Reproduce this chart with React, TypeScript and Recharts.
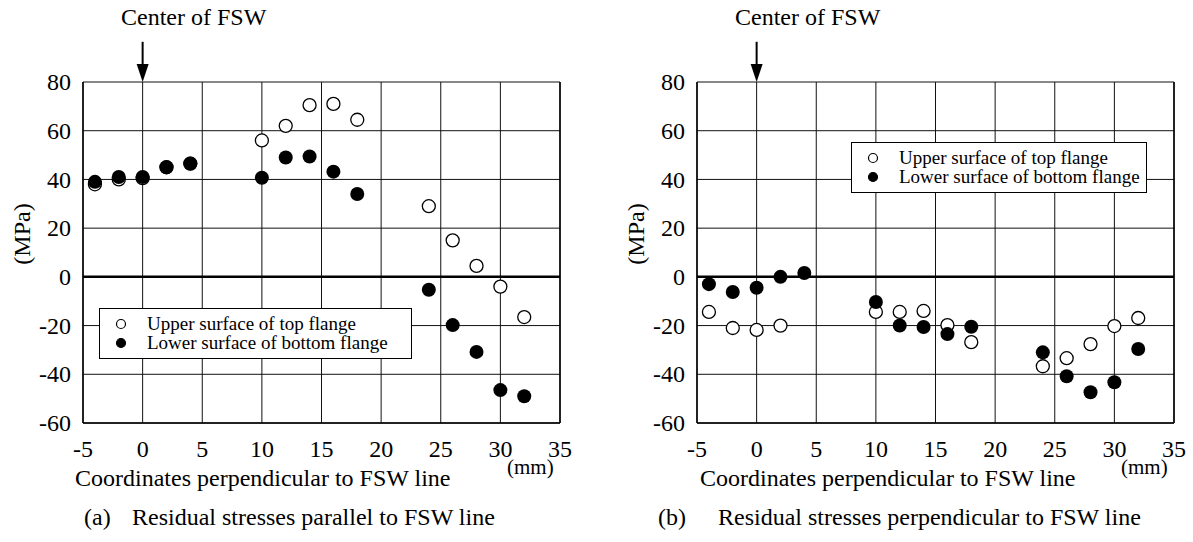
import { ScatterChart, Scatter, XAxis, YAxis, CartesianGrid, ReferenceLine } from "recharts";

const FONT = "'Liberation Serif', 'Times New Roman', serif";

const X_TICKS = [-5, 0, 5, 10, 15, 20, 25, 30, 35];
const Y_TICKS = [-60, -40, -20, 0, 20, 40, 60, 80];
const Y_MINOR = [-50, -30, -10, 10, 30, 50, 70];

// (a) residual stresses parallel to FSW line
const A_POS = [-4, -2, 0, 2, 4, 10, 12, 14, 16, 18, 24, 26, 28, 30, 32];
const A_UPPER = [38, 40, 40.5, 45, 46.5, 56, 62, 70.5, 71, 64.5, 29, 15, 4.5, -4, -16.5];
const A_LOWER = [39, 41, 41, 45, 46.5, 40.7, 49, 49.4, 43.2, 34, -5.3, -19.8, -30.8, -46.5, -49];

// (b) residual stresses perpendicular to FSW line
const B_UPPER_POS = [-4, -2, 0, 2, 10, 12, 14, 16, 18, 24, 26, 28, 30, 32];
const B_UPPER = [-14.4, -21, -21.8, -20, -14.4, -14.4, -14, -19.8, -26.8, -36.7, -33.4, -27.6, -20.2, -16.9];
const B_LOWER_POS = [-4, -2, 0, 2, 4, 10, 12, 14, 16, 18, 24, 26, 28, 30, 32];
const B_LOWER = [-3, -6.2, -4.5, 0, 1.6, -10.3, -20, -20.6, -23.5, -20.5, -31, -40.8, -47.4, -43.3, -29.6];

const UPPER_NAME = "Upper surface of top flange";
const LOWER_NAME = "Lower surface of bottom flange";

const toPoints = (xs: number[], ys: number[]) => xs.map((x, i) => ({ x, y: ys[i] }));

const OpenDot = (p: any) => (
  <circle cx={p.cx} cy={p.cy} r={6.5} fill="#fff" stroke="#000" strokeWidth={1.3} />
);
const FilledDot = (p: any) => <circle cx={p.cx} cy={p.cy} r={7} fill="#000" />;

const XTick = (p: any) => (
  <text x={p.x} y={p.y} dy="0.71em" textAnchor="middle" fill="#000" fontSize={24} fontFamily={FONT}>
    {p.payload.value}
  </text>
);
const YTick = (p: any) => (
  <text x={p.x} y={p.y} dy="0.34em" textAnchor="end" fill="#000" fontSize={24} fontFamily={FONT}>
    {p.payload.value}
  </text>
);

// downward arrow marking the weld centre, drawn above the plot at x = 0
const Arrow = (p: any) => {
  const x = p.x1;
  const yTop = Math.min(p.y1, p.y2);
  const yTip = Math.max(p.y1, p.y2);
  return (
    <g>
      <line x1={x} x2={x} y1={yTop} y2={yTip - 14} stroke="#000" strokeWidth={2} />
      <path d={`M${x - 6},${yTip - 18} L${x + 6},${yTip - 18} L${x},${yTip} Z`} fill="#000" />
    </g>
  );
};

const LegendBox = ({ left, top, width }: { left: number; top: number; width: number }) => (
  <div
    style={{
      position: "absolute",
      left,
      top,
      width,
      border: "1.5px solid #000",
      background: "#fff",
      boxSizing: "border-box",
      padding: "5px 0 6px 0",
      fontFamily: FONT,
      fontSize: 19,
      lineHeight: "19px",
      color: "#000",
    }}
  >
    {[UPPER_NAME, LOWER_NAME].map((name, i) => (
      <div key={name} style={{ display: "flex", alignItems: "center", whiteSpace: "nowrap" }}>
        <svg width={47} height={19}>
          <circle cx={21} cy={10} r={4.5} fill={i === 0 ? "#fff" : "#000"} stroke="#000" strokeWidth={1.2} />
        </svg>
        <span>{name}</span>
      </div>
    ))}
  </div>
);

type PanelProps = {
  left: number;
  upper: { x: number; y: number }[];
  lower: { x: number; y: number }[];
  legend: { left: number; top: number; width: number };
  tag: string;
  caption: string;
  tagLeft: number;
  captionLeft: number;
  labelLeft: number;
};

const Panel = ({ left, upper, lower, legend, tag, caption, tagLeft, captionLeft, labelLeft }: PanelProps) => (
  <div style={{ position: "absolute", left, top: 0, width: 580, height: 542, fontFamily: FONT, color: "#000", lineHeight: 1 }}>
    <div style={{ position: "absolute", left: 121, top: 5, fontSize: 24, whiteSpace: "nowrap" }}>Center of FSW</div>
    <div
      style={{
        position: "absolute",
        left: 22,
        top: 234,
        fontSize: 24,
        transform: "translate(-50%, -50%) rotate(-90deg)",
        whiteSpace: "nowrap",
      }}
    >
      (MPa)
    </div>
    <ScatterChart width={580} height={470} margin={{ top: 82, right: 20, bottom: 17, left: 0 }} style={{ fontFamily: FONT }}>
      <CartesianGrid stroke="#111" strokeWidth={1} />
      <XAxis
        type="number"
        dataKey="x"
        domain={[-5, 35]}
        ticks={X_TICKS}
        interval={0}
        height={30}
        tickSize={0}
        tickMargin={17}
        axisLine={{ stroke: "#000", strokeWidth: 1.5 }}
        tick={XTick}
        allowDataOverflow
      />
      <XAxis xAxisId="top" orientation="top" type="number" domain={[-5, 35]} height={0} tick={false} tickLine={false} axisLine={{ stroke: "#000", strokeWidth: 1.5 }} />
      <YAxis
        type="number"
        dataKey="y"
        domain={[-60, 80]}
        ticks={Y_TICKS}
        interval={0}
        width={83}
        tickSize={0}
        tickMargin={12}
        axisLine={{ stroke: "#000", strokeWidth: 1.5 }}
        tick={YTick}
        allowDataOverflow
      />
      <YAxis yAxisId="ml" orientation="left" mirror type="number" domain={[-60, 80]} ticks={Y_MINOR} interval={0} tick={false} tickSize={5} tickLine={{ stroke: "#000" }} axisLine={false} />
      <YAxis yAxisId="mr" orientation="right" mirror type="number" domain={[-60, 80]} ticks={Y_MINOR} interval={0} tick={false} tickSize={5} tickLine={{ stroke: "#000" }} axisLine={{ stroke: "#000", strokeWidth: 1.5 }} />
      <ReferenceLine y={0} stroke="#000" strokeWidth={2.5} />
      <ReferenceLine segment={[{ x: 0, y: 80 }, { x: 0, y: 96.5 }]} ifOverflow="visible" shape={Arrow} />
      <Scatter name={UPPER_NAME} data={upper} shape={OpenDot} isAnimationActive={false} />
      <Scatter name={LOWER_NAME} data={lower} shape={FilledDot} isAnimationActive={false} />
    </ScatterChart>
    <LegendBox {...legend} />
    <div style={{ position: "absolute", left: labelLeft, top: 466, fontSize: 24, whiteSpace: "nowrap" }}>
      Coordinates perpendicular to FSW line
    </div>
    <div style={{ position: "absolute", left: 507, top: 457, fontSize: 21, whiteSpace: "nowrap" }}>(mm)</div>
    <div style={{ position: "absolute", left: tagLeft, top: 505, fontSize: 24, whiteSpace: "nowrap" }}>{tag}</div>
    <div style={{ position: "absolute", left: captionLeft, top: 505, fontSize: 24, whiteSpace: "nowrap" }}>{caption}</div>
  </div>
);

export default function App() {
  return (
    <div style={{ position: "absolute", left: 0, top: 0, width: 1193, height: 542, background: "#fff" }}>
      <Panel
        left={0}
        upper={toPoints(A_POS, A_UPPER)}
        lower={toPoints(A_POS, A_LOWER)}
        legend={{ left: 99, top: 308, width: 313 }}
        tag="(a)"
        caption="Residual stresses parallel to FSW line"
        tagLeft={84}
        captionLeft={132}
        labelLeft={75}
      />
      <Panel
        left={614}
        upper={toPoints(B_UPPER_POS, B_UPPER)}
        lower={toPoints(B_LOWER_POS, B_LOWER)}
        legend={{ left: 237, top: 142, width: 296 }}
        tag="(b)"
        caption="Residual stresses perpendicular to FSW line"
        tagLeft={44}
        captionLeft={104}
        labelLeft={86}
      />
    </div>
  );
}
